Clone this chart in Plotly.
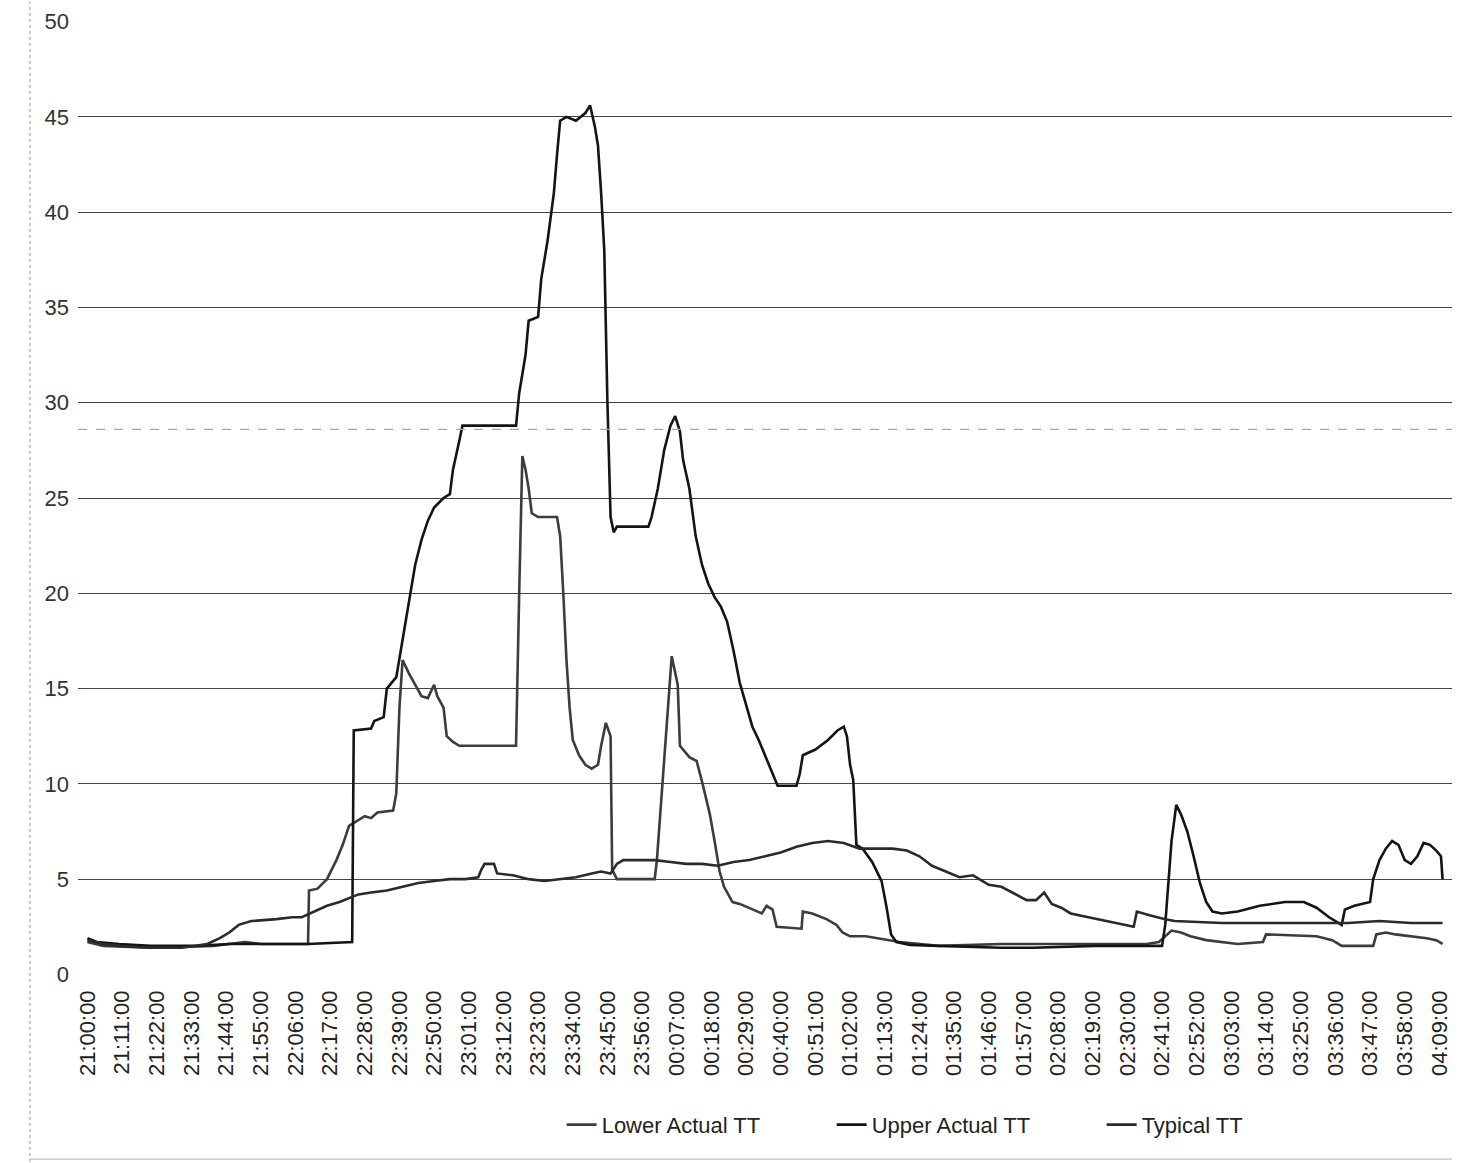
import plotly.graph_objects as go

# Travel times (minutes) sampled through the night, x = minutes after 21:00
upper_min = [0, 3, 10, 20, 35, 45, 55, 70, 84, 84.5, 90, 91, 94, 95, 98, 100, 102, 104, 106, 108,
             110, 113, 115, 116, 118, 119, 136, 137, 139, 140, 143, 144, 146, 148, 149, 150, 152, 155,
             158, 159.5, 161, 162, 163, 164, 165, 166, 167, 168, 178, 179, 181, 183, 185, 186.5, 188,
             189, 191, 193, 195, 197, 199, 201, 203, 205, 207, 209, 211, 213, 215, 217, 219, 225, 226,
             227, 231, 235, 238, 240, 241, 242, 243, 244, 246, 249, 252, 253.6, 255, 256.7, 261, 270,
             290, 300, 320, 341, 342, 344, 345.5, 347, 349, 351, 353, 355, 357, 360, 365, 372, 380,
             386, 390, 394, 398, 399, 402, 407, 408, 410, 412, 414, 416, 418, 420, 422, 424, 426, 428,
             429.5, 430]
upper_tt = [1.9, 1.7, 1.6, 1.5, 1.5, 1.6, 1.6, 1.6, 1.7, 12.8, 12.9, 13.3, 13.5, 15.0, 15.6, 17.5, 19.5,
            21.5, 22.8, 23.8, 24.5, 25.0, 25.2, 26.5, 28.0, 28.8, 28.8, 30.5, 32.5, 34.3, 34.5, 36.5,
            38.5, 41.0, 43.0, 44.8, 45.0, 44.8, 45.2, 45.6, 44.5, 43.5, 41.0, 38.0, 30.0, 24.0, 23.2,
            23.5, 23.5, 24.0, 25.5, 27.5, 28.8, 29.3, 28.5, 27.0, 25.5, 23.0, 21.5, 20.5, 19.8, 19.3,
            18.5, 17.0, 15.3, 14.2, 13.0, 12.3, 11.5, 10.7, 9.9, 9.9, 10.5, 11.5, 11.8, 12.3, 12.8,
            13.0, 12.5, 11.0, 10.2, 6.8, 6.6, 5.9, 4.9, 3.5, 2.1, 1.7, 1.55, 1.5, 1.4, 1.4, 1.5, 1.5,
            2.6, 7.0, 8.9, 8.4, 7.5, 6.2, 4.8, 3.8, 3.3, 3.2, 3.3, 3.6, 3.8, 3.8, 3.5, 3.0, 2.6, 3.4,
            3.6, 3.8, 5.0, 6.0, 6.6, 7.0, 6.8, 6.0, 5.8, 6.2, 6.9, 6.8, 6.5, 6.2, 5.0]

lower_min = [0, 5, 20, 40, 50, 55, 70, 70.3, 73, 76, 79, 81, 83, 85, 88, 90, 92, 97, 98, 99, 100, 102,
             104, 106, 108, 110, 111, 113, 114, 116, 118, 136, 137, 138, 139, 140, 141, 143, 149, 150,
             151, 152, 153, 154, 156, 158, 160, 162, 163, 164.5, 166, 166.5, 168, 180, 180.7, 183,
             185.4, 187.3, 188, 191, 193.3, 195.2, 197.5, 199, 200.6, 202, 204.7, 207, 210, 214, 215.5,
             217.4, 218.7, 226.6, 227, 230, 234.5, 237.7, 239.6, 242, 247, 253.6, 257.7, 270, 290, 300,
             320, 336, 340, 342, 344, 347, 350, 355, 360, 365, 373, 374, 390, 395, 398, 405, 408, 409,
             412, 415, 420, 425, 428, 430]
lower_tt = [1.7, 1.5, 1.4, 1.5, 1.7, 1.6, 1.6, 4.4, 4.5, 5.0, 6.0, 6.8, 7.8, 8.0, 8.3, 8.2, 8.5, 8.6,
            9.5, 14.0, 16.5, 15.8, 15.2, 14.6, 14.5, 15.2, 14.6, 14.0, 12.5, 12.2, 12.0, 12.0, 20.0,
            27.2, 26.5, 25.5, 24.2, 24.0, 24.0, 23.0, 20.0, 16.5, 14.0, 12.3, 11.5, 11.0, 10.8, 11.0,
            12.0, 13.2, 12.5, 5.5, 5.0, 5.0, 6.0, 11.0, 16.7, 15.2, 12.0, 11.4, 11.2, 10.0, 8.4, 7.0,
            5.4, 4.6, 3.8, 3.7, 3.5, 3.2, 3.6, 3.4, 2.5, 2.4, 3.3, 3.2, 2.9, 2.6, 2.2, 2.0, 2.0, 1.8,
            1.7, 1.5, 1.6, 1.6, 1.6, 1.6, 1.7, 2.0, 2.3, 2.2, 2.0, 1.8, 1.7, 1.6, 1.7, 2.1, 2.0, 1.8,
            1.5, 1.5, 1.5, 2.1, 2.2, 2.1, 2.0, 1.9, 1.8, 1.6]

typical_min = [0, 5, 10, 20, 30, 38, 42, 45, 48, 52, 60, 65, 68, 72, 76, 80, 83, 86, 90, 95, 100, 105,
               110, 115, 120, 124, 125, 126, 129, 130, 135, 140, 145, 150, 155, 160, 163, 166, 168,
               170, 180, 185, 190, 195, 200, 205, 210, 215, 220, 225, 230, 235, 240, 245, 250, 255.5,
               260, 264, 268, 272.6, 276.7, 281, 286, 290, 294.8, 298, 301, 303.6, 306, 309, 312, 318,
               326, 332, 333, 337, 342, 345, 360, 380, 400, 410, 420, 430]
typical_tt = [1.8, 1.6, 1.5, 1.4, 1.4, 1.6, 1.9, 2.2, 2.6, 2.8, 2.9, 3.0, 3.0, 3.3, 3.6, 3.8, 4.0, 4.2,
              4.3, 4.4, 4.6, 4.8, 4.9, 5.0, 5.0, 5.1, 5.5, 5.8, 5.8, 5.3, 5.2, 5.0, 4.9, 5.0, 5.1, 5.3,
              5.4, 5.3, 5.8, 6.0, 6.0, 5.9, 5.8, 5.8, 5.7, 5.9, 6.0, 6.2, 6.4, 6.7, 6.9, 7.0, 6.9, 6.6,
              6.6, 6.6, 6.5, 6.2, 5.7, 5.4, 5.1, 5.2, 4.7, 4.6, 4.2, 3.9, 3.9, 4.3, 3.7, 3.5, 3.2, 3.0,
              2.7, 2.5, 3.3, 3.1, 2.9, 2.8, 2.7, 2.7, 2.7, 2.8, 2.7, 2.7]

tick_labels = ["21:00:00", "21:11:00", "21:22:00", "21:33:00", "21:44:00", "21:55:00", "22:06:00",
               "22:17:00", "22:28:00", "22:39:00", "22:50:00", "23:01:00", "23:12:00", "23:23:00",
               "23:34:00", "23:45:00", "23:56:00", "00:07:00", "00:18:00", "00:29:00", "00:40:00",
               "00:51:00", "01:02:00", "01:13:00", "01:24:00", "01:35:00", "01:46:00", "01:57:00",
               "02:08:00", "02:19:00", "02:30:00", "02:41:00", "02:52:00", "03:03:00", "03:14:00",
               "03:25:00", "03:36:00", "03:47:00", "03:58:00", "04:09:00"]
tick_step = 11  # minutes between labelled categories
y_ticks = [0, 5, 10, 15, 20, 25, 30, 35, 40, 45, 50]

FONT = "Liberation Sans, Arial, sans-serif"

fig = go.Figure()
series = [
    ("Lower Actual TT", lower_min, lower_tt, "#3c3c3c"),
    ("Upper Actual TT", upper_min, upper_tt, "#141414"),
    ("Typical TT", typical_min, typical_tt, "#2a2a2a"),
]
for name, xs, ys, col in series:
    assert len(xs) == len(ys), name
    fig.add_trace(go.Scatter(x=xs, y=ys, name=name, mode="lines",
                             line=dict(color=col, width=2.6)))

fig.update_layout(
    width=1461, height=1163,
    margin=dict(l=78, r=9, t=18, b=188),
    paper_bgcolor="white", plot_bgcolor="white",
    font=dict(family=FONT, color="#222"),
    showlegend=True,
    legend=dict(orientation="h", x=0.352, xanchor="left", y=-0.157, yanchor="middle",
                font=dict(size=22, color="#222"), bgcolor="rgba(0,0,0,0)",
                entrywidth=225, entrywidthmode="pixels", tracegroupgap=0),
    xaxis=dict(range=[-3, 433], tickvals=[i * tick_step for i in range(len(tick_labels))],
               ticktext=tick_labels, tickangle=-90, tickfont=dict(size=22, color="#222"),
               showgrid=False, zeroline=False, showline=False, ticks="", ticklabelstandoff=10),
    yaxis=dict(range=[-0.03, 50.03], tickvals=y_ticks, tickfont=dict(size=22, color="#333"),
               showgrid=True, gridcolor="#444444", gridwidth=1.4, zeroline=False,
               showline=False, ticks="", ticklabelstandoff=8),
)

# faint dotted rule across the plot and the chart frame edges
fig.add_shape(type="line", xref="paper", yref="y", x0=0, x1=1, y0=28.6, y1=28.6,
              line=dict(color="#a8a8a8", width=1.2, dash="dash"))
fig.add_shape(type="line", xref="paper", yref="paper", x0=-0.035, x1=-0.035, y0=-0.196, y1=1.02,
              line=dict(color="#9a9a9a", width=1, dash="dot"))
fig.add_shape(type="line", xref="paper", yref="paper", x0=-0.035, x1=1.0, y0=-0.193, y1=-0.193,
              line=dict(color="#b0b0b0", width=1))

fig.write_html("out.html")
